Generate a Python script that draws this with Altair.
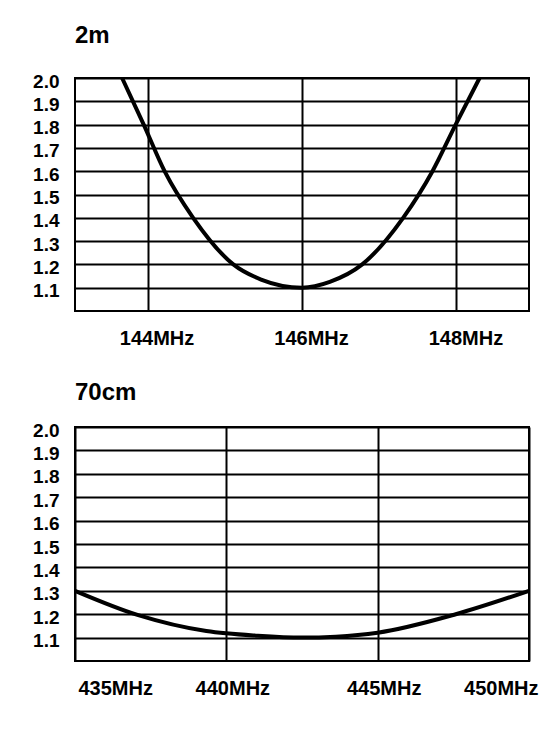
import altair as alt
import pandas as pd

# ---- 2m band (MHz, SWR) ----
freq_2m = [143.67, 143.95, 144.22, 144.59, 145.11, 145.47, 146.00, 146.36, 146.78,
           147.31, 147.69, 147.99, 148.30]
swr_2m = [2.0, 1.8, 1.6, 1.4, 1.2, 1.135, 1.1, 1.125, 1.2,
          1.4, 1.6, 1.8, 2.0]
ticks_2m = [144, 146, 148]

# ---- 70cm band (MHz, SWR) ----
freq_70 = [435.0, 437.09, 439.34, 441.04, 442.5, 443.62, 445.0, 447.58, 450.0]
swr_70 = [1.30, 1.196, 1.128, 1.108, 1.10, 1.104, 1.121, 1.20, 1.30]
ticks_70 = [435, 440, 445, 450]

y_ticks = [1.1, 1.2, 1.3, 1.4, 1.5, 1.6, 1.7, 1.8, 1.9, 2.0]

df2m = pd.DataFrame({"f": freq_2m, "swr": swr_2m})
df70 = pd.DataFrame({"f": freq_70, "swr": swr_70})

FONT = "Liberation Sans"


def panel(df, title, domain, ticks, flush, dx, toff, h):
    return alt.Chart(df).mark_line(
        color="black", strokeWidth=4, interpolate="monotone"
    ).encode(
        x=alt.X("f:Q",
                scale=alt.Scale(domain=domain, nice=False, zero=False),
                axis=alt.Axis(values=ticks, labelExpr="datum.value + 'MHz'",
                              labelFlush=flush, labelFlushOffset=3,
                              labelOffset=dx, labelPadding=17,
                              labelFontSize=20, title=None)),
        y=alt.Y("swr:Q",
                scale=alt.Scale(domain=[1.0, 2.0], nice=False, zero=False),
                axis=alt.Axis(values=y_ticks, format=".1f", labelPadding=16,
                              labelFontSize=19, labelOffset=3, title=None)),
    ).properties(
        width=454, height=h,
        title=alt.TitleParams(title, anchor="start", frame="group",
                              fontSize=24, offset=toff, font=FONT,
                              fontWeight="bold"),
    )


top = panel(df2m, "2m", [143.06, 148.94], ticks_2m, False, 9, 22, 233)
bottom = panel(df70, "70cm", [435.0, 450.0], ticks_70, True, 6, 16, 234)

chart = alt.vconcat(top, bottom, spacing=31).properties(
    padding={"left": 23, "top": 15, "right": 5, "bottom": 5}
).configure_view(
    stroke="black", strokeWidth=2
).configure_axis(
    domain=False, ticks=False, grid=True, gridColor="black", gridWidth=2,
    gridOpacity=1, labelFont=FONT, labelFontWeight="bold", labelColor="black"
).configure_title(color="black")

chart.save("out.html", embed_options={"renderer": "svg", "actions": False})
